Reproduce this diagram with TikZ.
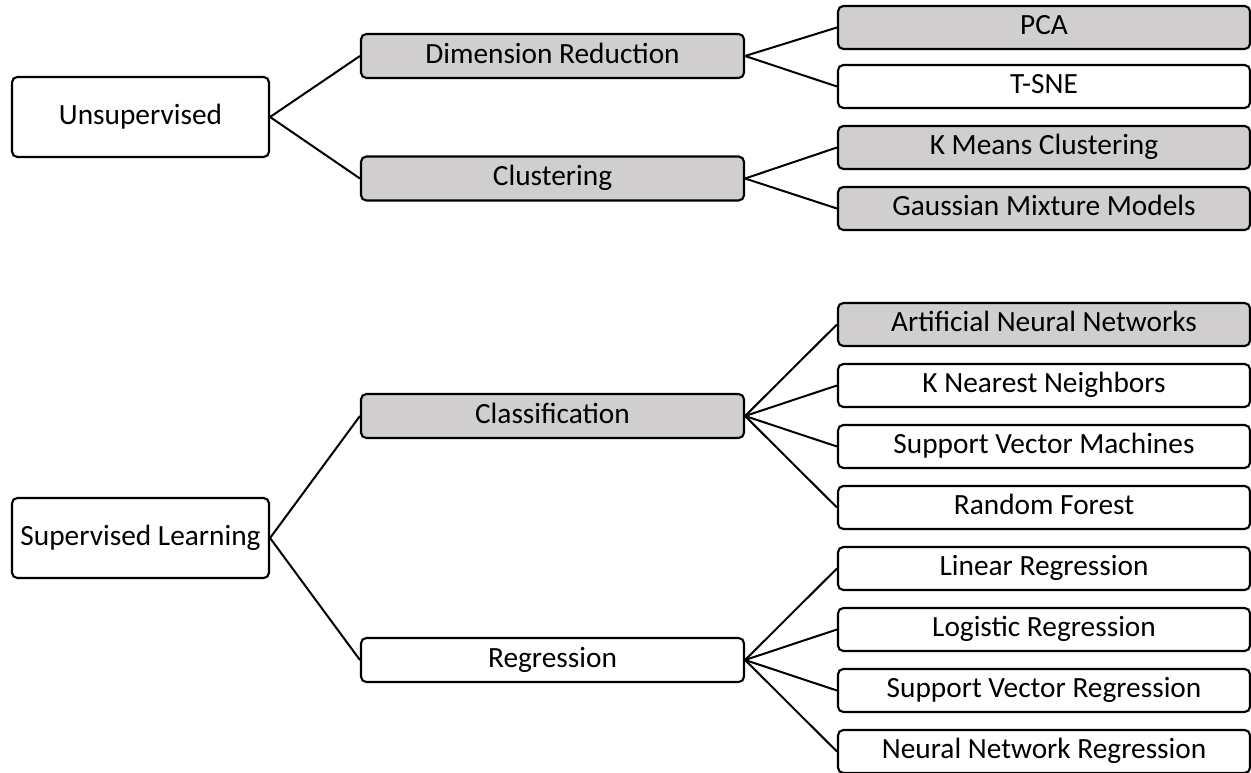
\documentclass[tikz,border=0pt]{standalone}
\usepackage{fontspec}
\setmainfont{Carlito}
\definecolor{boxgray}{HTML}{D0CECE}
\begin{document}
\begin{tikzpicture}[x=0.75pt,y=-0.75pt,
  box/.style={draw=black, line width=1.6pt, rounded corners=4pt,
    inner sep=0pt, text height=14.2pt, text depth=3.1pt,
    font=\fontsize{22}{26}\selectfont},
  grey/.style={fill=boxgray},
  rootbox/.style={box, minimum width=192.75pt, minimum height=60pt},
  midbox/.style={box, minimum width=287.25pt, minimum height=33pt},
  leafbox/.style={box, minimum width=309pt, minimum height=32.25pt},
  link/.style={line width=1.5pt}]
\useasboundingbox (0,0) rectangle (1251,773);

% unsupervised branch
\node[rootbox] (unsup) at (140.5,117) {Unsupervised};
\node[midbox,grey] (dimred) at (552.5,56) {Dimension Reduction};
\node[midbox,grey] (clust) at (552.5,178.5) {Clustering};
\node[leafbox,grey] (pca) at (1044,27.5) {PCA};
\node[leafbox] (tsne) at (1044,86.5) {T-SNE};
\node[leafbox,grey] (kmeans) at (1044,147.5) {K Means Clustering};
\node[leafbox,grey] (gmm) at (1044,208.5) {Gaussian Mixture Models};

% supervised branch
\node[rootbox] (sup) at (140.5,538) {Supervised Learning};
\node[midbox,grey] (classif) at (552.5,416) {Classification};
\node[midbox] (regr) at (552.5,660) {Regression};
\node[leafbox,grey] (ann) at (1044,324.5) {Artificial Neural Networks};
\node[leafbox] (knn) at (1044,385.5) {K Nearest Neighbors};
\node[leafbox] (svm) at (1044,446.5) {Support Vector Machines};
\node[leafbox] (rf) at (1044,507.5) {Random Forest};
\node[leafbox] (linreg) at (1044,568.5) {Linear Regression};
\node[leafbox] (logreg) at (1044,629.5) {Logistic Regression};
\node[leafbox] (svr) at (1044,690.5) {Support Vector Regression};
\node[leafbox] (nnr) at (1044,751.5) {Neural Network Regression};

% connectors
\foreach \a/\b in {unsup/dimred, unsup/clust, dimred/pca, dimred/tsne,
    clust/kmeans, clust/gmm, sup/classif, sup/regr,
    classif/ann, classif/knn, classif/svm, classif/rf,
    regr/linreg, regr/logreg, regr/svr, regr/nnr}
  \draw[link] (\a.east) -- (\b.west);
\end{tikzpicture}
\end{document}
